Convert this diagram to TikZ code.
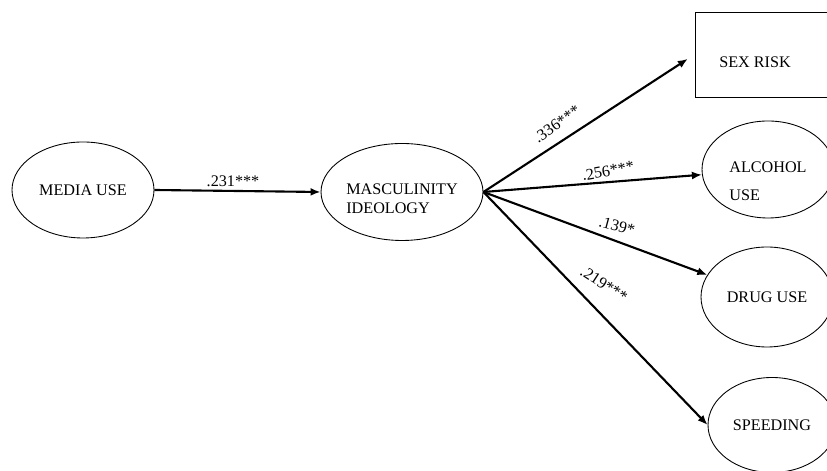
\documentclass[tikz,border=0pt]{standalone}
\usepackage{fontspec}
\setmainfont{Liberation Serif}
\usetikzlibrary{shapes.geometric, arrows.meta}

\begin{document}
\begin{tikzpicture}[
    var/.style={ellipse, draw, line width=0.5pt, inner sep=0pt, align=left,
      font=\fontsize{9.2}{10.6}\selectfont},
    box/.style={rectangle, draw, line width=0.5pt, inner sep=0pt,
      font=\fontsize{9.2}{10.6}\selectfont},
    path/.style={line width=1.2pt, -{Latex[length=2mm, width=1.6mm]}},
    coef/.style={font=\fontsize{9.2}{10.6}\selectfont, inner sep=0pt}]
  \useasboundingbox (0, 0) rectangle (16.54, 9.42);
  \clip (0, 0) rectangle (16.54, 9.42);

  \node[var, minimum width=2.84cm, minimum height=1.92cm] (media) at (1.66, 5.62) {MEDIA USE};
  \node[var, minimum width=3.24cm, minimum height=1.94cm,
        label={[align=left, yshift=-0.14cm, font=\fontsize{9.2}{10.6}\selectfont]center:MASCULINITY\\IDEOLOGY}]
        (masc) at (8.04, 5.58) {};
  \node[box, minimum width=3.0cm, minimum height=1.7cm,
        label={[xshift=-0.3cm, yshift=-0.15cm, font=\fontsize{9.2}{10.6}\selectfont]center:SEX RISK}]
        (sex) at (15.40, 8.33) {};
  \node[var, minimum width=2.64cm, minimum height=1.94cm,
        label={[align=left, yshift=-0.23cm, font=\fontsize{9.2}{16}\selectfont]center:ALCOHOL\\USE}]
        (alc) at (15.36, 6.03) {};
  \node[var, minimum width=2.64cm, minimum height=2.0cm] (drug) at (15.34, 3.48) {DRUG USE};
  \node[var, minimum width=2.56cm, minimum height=1.9cm] (speed) at (15.44, 0.92) {SPEEDING};

  \coordinate (hub) at (masc.east);

  \draw[path] (media.east) -- (masc.west);
  \draw[path, shorten >=0.16cm] (hub) -- (sex.west);
  \draw[path] (hub) -- (alc);
  \draw[path] (hub) -- (drug);
  \draw[path] (hub) -- (speed.west);

  \node[coef] (c1) at (4.66, 5.80) {.231***};
  \node[coef, rotate=35]  (c2) at (11.14, 6.94) {.336***};
  \node[coef, rotate=10]  (c3) at (12.16, 6.00) {.256***};
  \node[coef, rotate=-15] (c4) at (12.34, 4.90) {.139*};
  \node[coef, rotate=-33] (c5) at (12.08, 3.74) {.219***};
\end{tikzpicture}
\end{document}
